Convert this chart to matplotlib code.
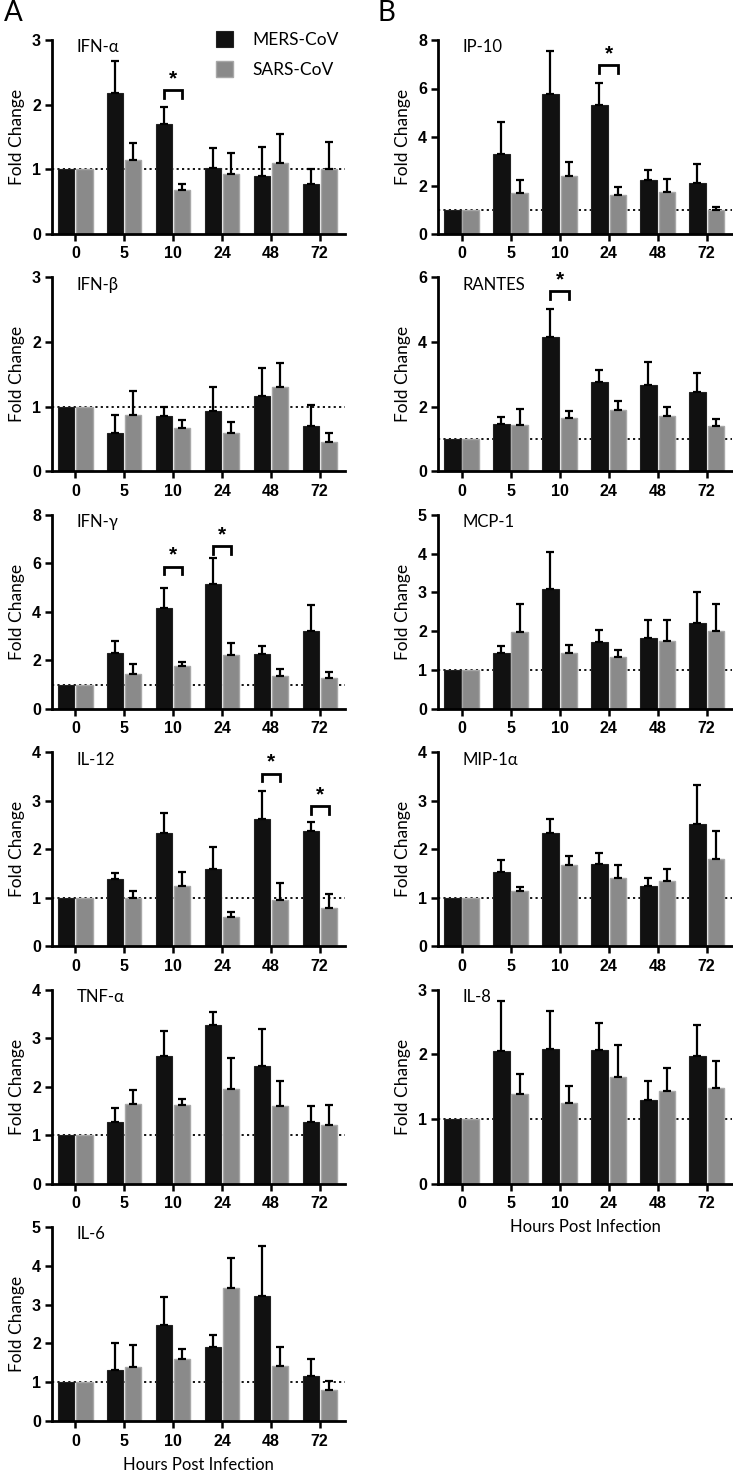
import numpy as np
import matplotlib
matplotlib.use("Agg")
import matplotlib.pyplot as plt
from matplotlib.patches import Patch

# ---------------- data ----------------
hours = ["0", "5", "10", "24", "48", "72"]
series_names = ["MERS-CoV", "SARS-CoV"]

# Panel A
ifna_mers = [1.0, 2.18, 1.70, 1.02, 0.90, 0.78]
ifna_mers_top = [1.0, 2.67, 1.97, 1.33, 1.35, 1.00]
ifna_sars = [1.0, 1.15, 0.68, 0.93, 1.10, 1.01]
ifna_sars_top = [1.0, 1.40, 0.78, 1.25, 1.54, 1.42]

ifnb_mers = [1.0, 0.60, 0.86, 0.94, 1.16, 0.70]
ifnb_mers_top = [1.0, 0.87, 0.99, 1.30, 1.60, 1.02]
ifnb_sars = [1.0, 0.87, 0.67, 0.60, 1.30, 0.45]
ifnb_sars_top = [1.0, 1.24, 0.79, 0.76, 1.67, 0.59]

ifng_mers = [1.0, 2.30, 4.15, 5.15, 2.28, 3.20]
ifng_mers_top = [1.0, 2.80, 5.00, 6.20, 2.58, 4.30]
ifng_sars = [1.0, 1.42, 1.78, 2.22, 1.35, 1.27]
ifng_sars_top = [1.0, 1.86, 1.94, 2.72, 1.65, 1.50]

il12_mers = [1.0, 1.38, 2.33, 1.60, 2.62, 2.37]
il12_mers_top = [1.0, 1.51, 2.74, 2.05, 3.20, 2.57]
il12_sars = [1.0, 0.99, 1.25, 0.60, 0.96, 0.78]
il12_sars_top = [1.0, 1.13, 1.53, 0.71, 1.30, 1.07]

tnfa_mers = [1.0, 1.27, 2.63, 3.26, 2.43, 1.28]
tnfa_mers_top = [1.0, 1.56, 3.15, 3.53, 3.18, 1.59]
tnfa_sars = [1.0, 1.65, 1.63, 1.95, 1.61, 1.21]
tnfa_sars_top = [1.0, 1.94, 1.75, 2.59, 2.11, 1.63]

il6_mers = [1.0, 1.31, 2.47, 1.91, 3.23, 1.17]
il6_mers_top = [1.0, 2.01, 3.19, 2.22, 4.50, 1.60]
il6_sars = [1.0, 1.38, 1.59, 3.44, 1.41, 0.80]
il6_sars_top = [1.0, 1.95, 1.85, 4.20, 1.90, 1.03]

# Panel B
ip10_mers = [1.0, 3.28, 5.78, 5.32, 2.22, 2.12]
ip10_mers_top = [1.0, 4.60, 7.55, 6.22, 2.65, 2.87]
ip10_sars = [1.0, 1.68, 2.40, 1.60, 1.75, 0.97]
ip10_sars_top = [1.0, 2.22, 2.96, 1.92, 2.28, 1.10]

rantes_mers = [1.0, 1.48, 4.17, 2.76, 2.68, 2.45]
rantes_mers_top = [1.0, 1.68, 5.03, 3.13, 3.37, 3.05]
rantes_sars = [1.0, 1.42, 1.65, 1.89, 1.70, 1.40]
rantes_sars_top = [1.0, 1.92, 1.88, 2.19, 1.98, 1.63]

mcp1_mers = [1.0, 1.45, 3.10, 1.72, 1.82, 2.22]
mcp1_mers_top = [1.0, 1.63, 4.05, 2.03, 2.28, 3.00]
mcp1_sars = [1.0, 1.97, 1.43, 1.33, 1.75, 2.01]
mcp1_sars_top = [1.0, 2.70, 1.64, 1.51, 2.28, 2.70]

mip1a_mers = [1.0, 1.52, 2.34, 1.69, 1.25, 2.51]
mip1a_mers_top = [1.0, 1.77, 2.63, 1.93, 1.40, 3.33]
mip1a_sars = [1.0, 1.13, 1.67, 1.41, 1.35, 1.79]
mip1a_sars_top = [1.0, 1.23, 1.85, 1.67, 1.60, 2.37]

il8_mers = [1.0, 2.05, 2.08, 2.07, 1.30, 1.98]
il8_mers_top = [1.0, 2.82, 2.67, 2.48, 1.58, 2.46]
il8_sars = [1.0, 1.38, 1.25, 1.65, 1.43, 1.48]
il8_sars_top = [1.0, 1.69, 1.51, 2.15, 1.79, 1.90]

# significance markers: (group index, bracket level)
ifna_sig = [(2, 2.22)]
ifng_sig = [(2, 5.86), (3, 6.70)]
il12_sig = [(4, 3.56), (5, 2.89)]
ip10_sig = [(3, 6.97)]
rantes_sig = [(2, 5.57)]

panels_A = [
    ("IFN-α", 3, ifna_mers, ifna_mers_top, ifna_sars, ifna_sars_top, ifna_sig),
    ("IFN-β", 3, ifnb_mers, ifnb_mers_top, ifnb_sars, ifnb_sars_top, []),
    ("IFN-γ", 8, ifng_mers, ifng_mers_top, ifng_sars, ifng_sars_top, ifng_sig),
    ("IL-12", 4, il12_mers, il12_mers_top, il12_sars, il12_sars_top, il12_sig),
    ("TNF-α", 4, tnfa_mers, tnfa_mers_top, tnfa_sars, tnfa_sars_top, []),
    ("IL-6", 5, il6_mers, il6_mers_top, il6_sars, il6_sars_top, []),
]
panels_B = [
    ("IP-10", 8, ip10_mers, ip10_mers_top, ip10_sars, ip10_sars_top, ip10_sig),
    ("RANTES", 6, rantes_mers, rantes_mers_top, rantes_sars, rantes_sars_top, rantes_sig),
    ("MCP-1", 5, mcp1_mers, mcp1_mers_top, mcp1_sars, mcp1_sars_top, []),
    ("MIP-1α", 4, mip1a_mers, mip1a_mers_top, mip1a_sars, mip1a_sars_top, []),
    ("IL-8", 3, il8_mers, il8_mers_top, il8_sars, il8_sars_top, []),
]

# ---------------- style ----------------
W, H = 733, 1470
DPI = 100
fig = plt.figure(figsize=(W / DPI, H / DPI), dpi=DPI)

TXT = ["Lato", "DejaVu Sans"]
TICKF = ["Liberation Sans", "DejaVu Sans"]
BLACK = "#111111"
GRAY_FACE = "#8a8a8a"
GRAY_EDGE = "#a8a8a8"

bar_w = 0.33
off = 0.185


def px_axes(left, top, width, height):
    return fig.add_axes([left / W, 1 - (top + height) / H, width / W, height / H])


def draw_panel(ax, title, ymax, mers, mers_top, sars, sars_top, sig, xlabel=False):
    x = np.arange(len(hours))
    ax.axhline(1.0, color="black", lw=1.3, ls=(0, (1.2, 1.8)), zorder=1)
    ax.bar(x - off, mers, width=bar_w, color=BLACK, edgecolor="#222222", lw=0.8, zorder=2)
    ax.bar(x + off, sars, width=bar_w, color=GRAY_FACE, edgecolor=GRAY_EDGE, lw=1.0, zorder=2)
    for xs, v, t in ((x - off, mers, mers_top), (x + off, sars, sars_top)):
        v = np.asarray(v); t = np.asarray(t)
        m = t > v
        ax.errorbar(xs[m], v[m], yerr=[np.zeros(m.sum()), (t - v)[m]], fmt="none",
                    ecolor="black", elinewidth=1.6, capsize=3.2, capthick=1.6, zorder=3)
    leg = 0.04 * ymax
    for gi, lvl in sig:
        xb, xg = gi - off, gi + off
        ax.plot([xb, xb, xg, xg], [lvl - leg, lvl, lvl, lvl - leg], color="black",
                lw=2.0, solid_joinstyle="miter", zorder=4, clip_on=False)
        ax.annotate("*", xy=(gi, lvl), xytext=(0, 1.5), textcoords="offset points",
                    ha="center", va="bottom", fontsize=15, fontweight="bold",
                    family=TICKF, annotation_clip=False)
    ax.set_ylim(0, ymax)
    ax.set_xlim(-0.48, 5.52)
    ax.set_yticks(np.arange(0, ymax + 0.01, 1 if ymax <= 5 else 2))
    ax.set_xticks(x)
    ax.set_xticklabels(hours)
    for lab in ax.get_xticklabels() + ax.get_yticklabels():
        lab.set_fontfamily(TICKF)
        lab.set_fontweight("bold")
        lab.set_fontsize(11.5)
    ax.tick_params(axis="both", direction="out", length=5, width=1.8, pad=3, color="black")
    ax.tick_params(axis="x", pad=4)
    for s in ("top", "right"):
        ax.spines[s].set_visible(False)
    for s in ("left", "bottom"):
        ax.spines[s].set_linewidth(2.0)
    ax.set_ylabel("Fold Change", family=TXT, fontsize=12.5, labelpad=5)
    ax.text(0.085, 0.962, title, transform=ax.transAxes, family=TXT, fontsize=12,
            ha="left", va="center")
    if xlabel:
        ax.set_xlabel("Hours Post Infection", family=TXT, fontsize=12, labelpad=6)


tops = [40 + i * 237.4 for i in range(6)]
axh = 194

axes_A = []
for i, p in enumerate(panels_A):
    ax = px_axes(52, tops[i], 293, axh)
    draw_panel(ax, *p, xlabel=(i == len(panels_A) - 1))
    axes_A.append(ax)

for i, p in enumerate(panels_B):
    ax = px_axes(438, tops[i], 294, axh)
    draw_panel(ax, *p, xlabel=(i == len(panels_B) - 1))

# legend in first panel
handles = [Patch(facecolor=BLACK, edgecolor="#222222", lw=0.8),
           Patch(facecolor=GRAY_FACE, edgecolor=GRAY_EDGE, lw=1.0)]
axes_A[0].legend(handles, series_names, loc="upper left", bbox_to_anchor=(0.56, 1.045),
                 frameon=False, prop={"family": TXT, "size": 12.5}, handlelength=1.0,
                 handleheight=1.0, handletextpad=1.1, labelspacing=0.75, borderpad=0,
                 borderaxespad=0)

fig.text(4 / W, 1 - 13 / H, "A", family=TXT, fontsize=20, ha="left", va="center")
fig.text(377 / W, 1 - 13 / H, "B", family=TXT, fontsize=20, ha="left", va="center")

fig.savefig("out.png", dpi=DPI)
